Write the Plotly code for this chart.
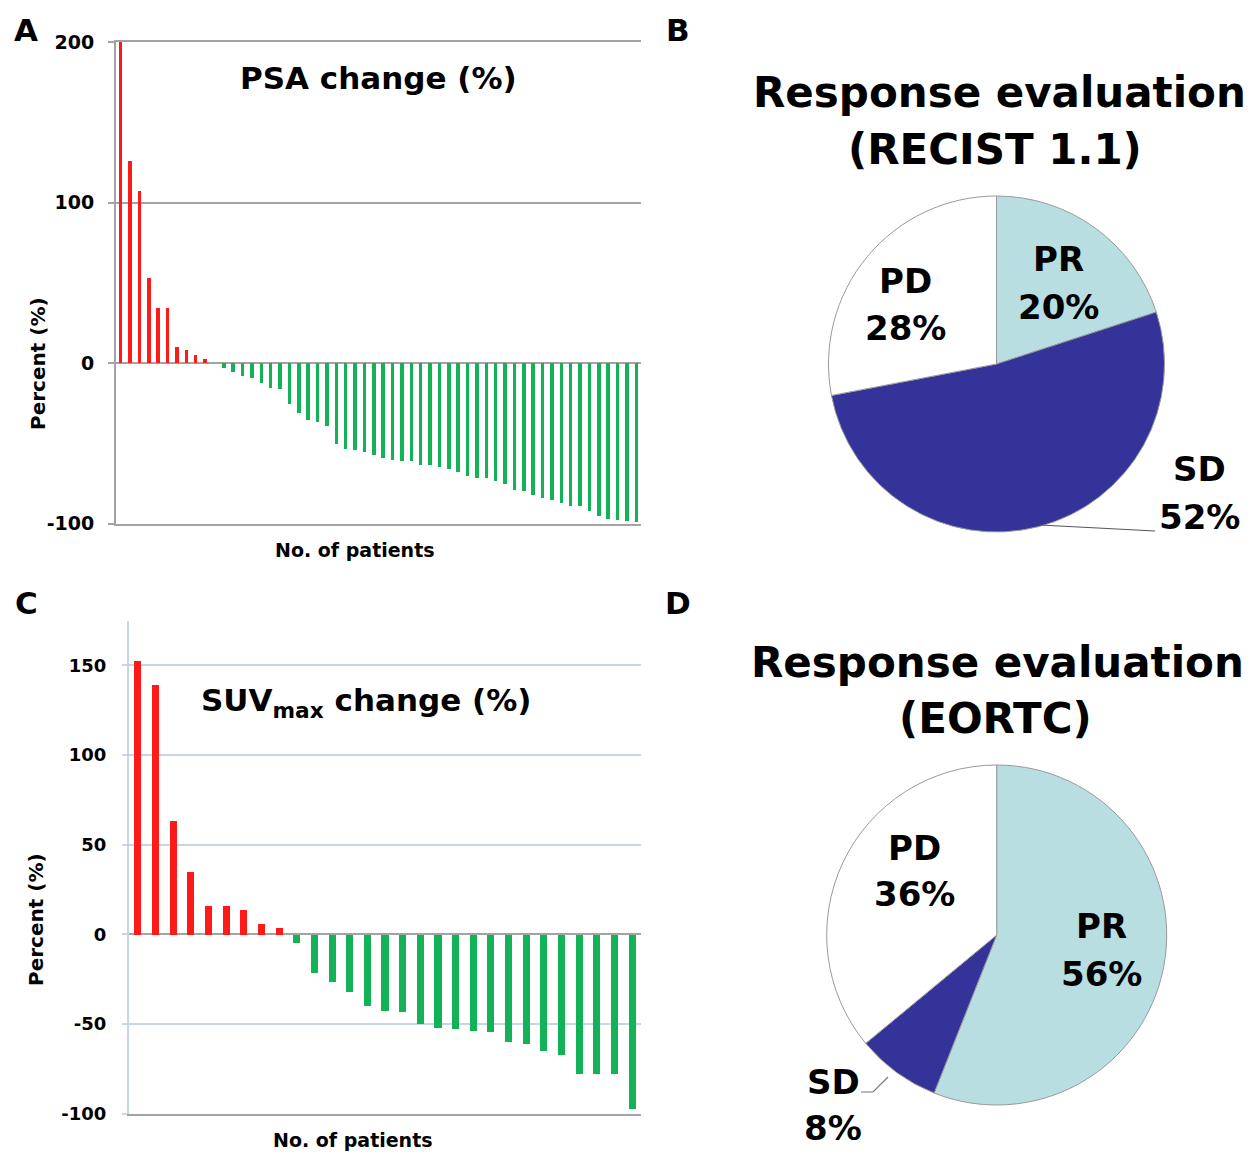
import plotly.graph_objects as go

W, H = 1252, 1152
FONT = "DejaVu Sans"

# ---------------- data ----------------
psa_change = [200, 126, 107, 53, 34, 34, 10, 8, 5, 2.5,
              0,
              -3.3, -5.4, -7.9, -9.3, -12.6, -15.5, -16.1, -25.5, -31.3, -35.8,
              -36.9, -39.5, -50.3, -53.4, -54.0,
              -55.6, -57.3, -59.4, -60.2, -60.9, -61.2, -63.4, -63.6, -65.0, -66.1,
              -68.2, -70.6, -71.7, -71.8, -73.3, -75.4, -79.0, -79.9, -82.1, -84.3,
              -85.2, -87.2, -88.9, -89.3, -92.0, -95.5, -97.2, -98.0, -98.6, -98.9]
suv_change = [152.8, 139.5, 63.3, 34.8, 15.9, 15.9, 13.7, 6.0, 3.5,
              -4.5, -21.4, -26.6, -31.8, -39.6, -42.4, -43.2, -49.8, -52.1, -52.8,
              -53.7, -54.4, -60.0, -60.9, -65.0, -67.2, -77.6, -77.6, -77.6, -97.2]
psa_patients = list(range(1, len(psa_change) + 1))
suv_patients = list(range(1, len(suv_change) + 1))

resp_labels = ["PR", "SD", "PD"]
recist_pct = [20, 52, 28]
eortc_pct = [56, 8, 36]

psa_ticks = [200, 100, 0, -100]
suv_ticks = [150, 100, 50, 0, -50, -100]

RED = "#ff1a1a"
GREEN = "#12b356"
PR_C = "#b8dee2"
SD_C = "#343399"
PD_C = "#ffffff"


def px(x):
    return x / W


def py(y):
    return 1 - y / H


fig = go.Figure()

fig.add_trace(go.Bar(
    x=psa_patients, y=psa_change, width=0.38,
    marker=dict(color=[RED if v > 0 else GREEN for v in psa_change], line=dict(width=0)),
    xaxis="x", yaxis="y", showlegend=False))

fig.add_trace(go.Bar(
    x=suv_patients, y=suv_change, width=0.4,
    marker=dict(color=[RED if v > 0 else GREEN for v in suv_change], line=dict(width=0)),
    xaxis="x2", yaxis="y2", showlegend=False))

pie_common = dict(sort=False, direction="clockwise", rotation=0, textinfo="none",
                  hoverinfo="label+percent", showlegend=False, automargin=False,
                  marker=dict(colors=[PR_C, SD_C, PD_C], line=dict(color="#9a9a9a", width=1)))

fig.add_trace(go.Pie(labels=resp_labels, values=recist_pct,
                     domain=dict(x=[px(828.5), px(1164.5)], y=[py(532), py(196)]),
                     **pie_common))
fig.add_trace(go.Pie(labels=resp_labels, values=eortc_pct,
                     domain=dict(x=[px(826.7), px(1166.7)], y=[py(1105), py(765)]),
                     **pie_common))

GRAY = "#a3a3a3"
LBLUE = "#c6d6ea"

fig.update_layout(
    width=W, height=H, margin=dict(l=0, r=0, t=0, b=0, autoexpand=False),
    paper_bgcolor="white", plot_bgcolor="white",
    font=dict(family=FONT, color="black"),
    bargap=0,
    xaxis=dict(domain=[px(116), px(641)], range=[0.5, len(psa_change) + 0.5],
               showticklabels=False, ticks="", showgrid=False, zeroline=False, automargin=False,
               showline=True, mirror=True, linecolor=GRAY, linewidth=2, anchor="y"),
    yaxis=dict(domain=[py(523.5), py(42)], range=[-100, 200], automargin=False,
               tickvals=psa_ticks, ticktext=[str(t) for t in psa_ticks],
               ticks="outside", ticklen=6, tickcolor=GRAY, tickwidth=1.5,
               ticklabelstandoff=10,
               tickfont=dict(family=FONT, size=19, color="black", weight="bold"),
               showgrid=True, gridcolor=GRAY, gridwidth=1.5,
               zeroline=True, zerolinecolor=GRAY, zerolinewidth=2,
               showline=True, linecolor=GRAY, linewidth=2, anchor="x"),
    xaxis2=dict(domain=[px(129), px(641)], range=[0.5, len(suv_change) + 0.5],
                showticklabels=False, ticks="", showgrid=False, zeroline=False, automargin=False,
                showline=True, linecolor=GRAY, linewidth=2, anchor="y2"),
    yaxis2=dict(domain=[py(1113.5), py(620.6)], range=[-100, 175], automargin=False,
                tickvals=suv_ticks, ticktext=[str(t) for t in suv_ticks],
                ticks="outside", ticklen=5, tickcolor=LBLUE, tickwidth=1.5,
                ticklabelstandoff=12,
                tickfont=dict(family=FONT, size=18, color="black", weight="bold"),
                showgrid=True, gridcolor=LBLUE, gridwidth=1.5,
                zeroline=True, zerolinecolor=GRAY, zerolinewidth=2,
                showline=True, linecolor=LBLUE, linewidth=2, anchor="x2"),
)


def ann(text, x, y, size, angle=0, xanchor="center"):
    fig.add_annotation(text=text, x=px(x), y=py(y), xref="paper", yref="paper",
                       showarrow=False, xanchor=xanchor, yanchor="middle",
                       textangle=angle,
                       font=dict(family=FONT, size=size, color="black", weight="bold"))


# panel letters
ann("A", 26, 30, 31)
ann("B", 678, 30, 31)
ann("C", 26, 603, 31)
ann("D", 678, 603, 31)

# bar chart texts
ann("PSA change (%)", 378, 78, 31)
ann("SUV<sub>max</sub> change (%)", 366, 702, 31)
ann("Percent (%)", 38, 364, 20, angle=-90)
ann("Percent (%)", 36, 920, 20, angle=-90)
ann("No. of patients", 355, 550, 19)
ann("No. of patients", 353, 1140, 19)

# pie titles
ann("Response evaluation", 999, 92, 42)
ann("(RECIST 1.1)", 995, 149, 42)
ann("Response evaluation", 997, 662, 42)
ann("(EORTC)", 995, 718, 42)

# pie labels
for lab, pct, (x, y1, y2) in zip(resp_labels, recist_pct,
                                 [(1058, 259, 307), (1199, 469, 517), (905, 281, 328)]):
    ann(lab, x, y1, 34)
    ann(f"{pct}%", x, y2, 34)
for lab, pct, (x, y1, y2) in zip(resp_labels, eortc_pct,
                                 [(1101, 926, 974), (833, 1082, 1128), (914, 848, 894)]):
    ann(lab, x, y1, 34)
    ann(f"{pct}%", x, y2, 34)

# leader lines
fig.add_shape(type="line", xref="paper", yref="paper",
              x0=px(1040), y0=py(525), x1=px(1155), y1=py(531),
              line=dict(color="#555555", width=1.2))
fig.add_shape(type="path", xref="paper", yref="paper",
              path=f"M {px(861)} {py(1092)} L {px(873)} {py(1092)} L {px(888)} {py(1077)}",
              line=dict(color="#777777", width=1.2))

fig.write_html("out.html")
